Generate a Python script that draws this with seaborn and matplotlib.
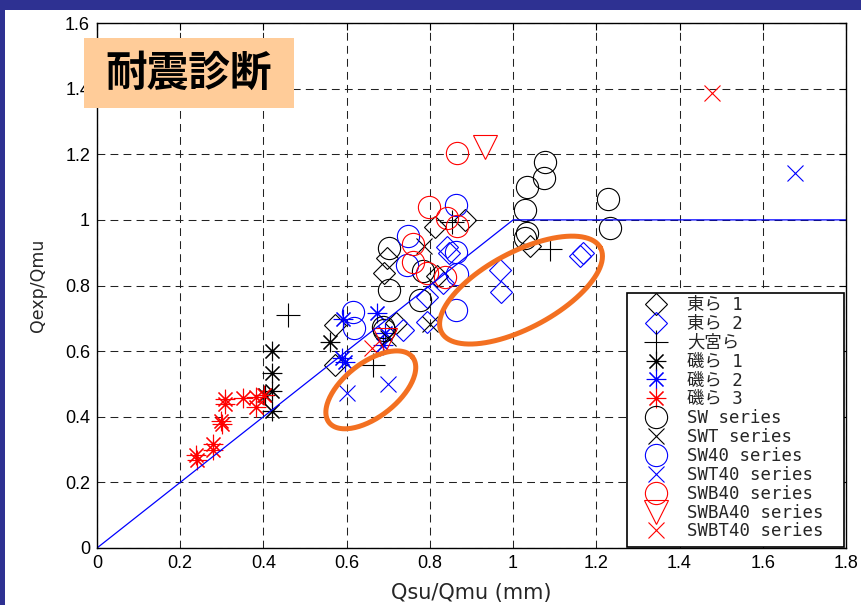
import numpy as np
import pandas as pd
import seaborn as sns
import matplotlib
matplotlib.use("Agg")
import matplotlib.pyplot as plt
from matplotlib.patches import Rectangle
from matplotlib.font_manager import FontProperties

# ---------------- data ----------------
higashi1_x = [0.572, 0.572, 0.690, 0.697, 0.719, 0.812, 0.884, 0.817, 1.040]
higashi1_y = [0.680, 0.558, 0.838, 0.884, 0.686, 0.978, 1.000, 0.829, 0.920]

higashi2_x = [0.841, 0.846, 0.832, 0.793, 0.969, 0.971, 1.161, 1.168, 0.793, 0.735]
higashi2_y = [0.917, 0.899, 0.808, 0.765, 0.847, 0.780, 0.890, 0.899, 0.689, 0.664]

omiya_x = [0.459, 0.664, 1.089, 0.852]
omiya_y = [0.710, 0.558, 0.911, 0.995]

iso1_x = [0.421, 0.421, 0.421, 0.404, 0.421, 0.560]
iso1_y = [0.600, 0.532, 0.480, 0.466, 0.418, 0.629]

iso2_x = [0.591, 0.673, 0.589, 0.596, 0.692, 0.687]
iso2_y = [0.698, 0.716, 0.579, 0.567, 0.655, 0.619]

iso3_x = [0.238, 0.240, 0.279, 0.279, 0.298, 0.300, 0.308, 0.308, 0.351, 0.382, 0.382, 0.401]
iso3_y = [0.283, 0.268, 0.317, 0.299, 0.387, 0.378, 0.453, 0.440, 0.457, 0.461, 0.430, 0.466]

sw_x = [1.077, 1.074, 1.033, 1.029, 1.033, 1.029, 1.229, 1.233, 0.702, 0.702, 0.688, 0.690, 0.776, 0.783]
sw_y = [1.177, 1.129, 1.101, 1.030, 0.959, 0.944, 1.064, 0.974, 0.915, 0.786, 0.674, 0.663, 0.756, 0.845]

swt_x = [0.786, 0.800, 0.699]
swt_y = [0.920, 0.683, 0.640]

sw40_x = [0.863, 0.748, 0.863, 0.745, 0.865, 0.863, 0.615, 0.617]
sw40_y = [1.045, 0.950, 0.902, 0.863, 0.834, 0.725, 0.719, 0.670]

swt40_x = [0.600, 0.700, 1.677]
swt40_y = [0.471, 0.500, 1.144]

swb40_x = [0.864, 0.798, 0.840, 0.865, 0.760, 0.760, 0.792, 0.836]
swb40_y = [1.203, 1.040, 1.005, 0.981, 0.927, 0.873, 0.837, 0.827]

swba40_x = [0.932, 0.692]
swba40_y = [1.223, 0.634]

swbt40_x = [1.478, 0.660]
swbt40_y = [1.387, 0.610]

# design line Qexp/Qmu = min(Qsu/Qmu, 1)
limit_x = [0.0, 1.0, 1.8]
limit_y = [0.0, 1.0, 1.0]

x_ticks = [0, 0.2, 0.4, 0.6, 0.8, 1.0, 1.2, 1.4, 1.6, 1.8]
x_ticklabels = ["0", "0.2", "0.4", "0.6", "0.8", "1", "1.2", "1.4", "1.6", "1.8"]
y_ticks = [0, 0.2, 0.4, 0.6, 0.8, 1.0, 1.2, 1.4, 1.6]
y_ticklabels = ["0", "0.2", "0.4", "0.6", "0.8", "1", "1.2", "1.4", "1.6"]

labels = ["東ら 1", "東ら 2", "大宮ら", "磯ら 1", "磯ら 2", "磯ら 3",
          "SW series", "SWT series", "SW40 series", "SWT40 series",
          "SWB40 series", "SWBA40 series", "SWBT40 series"]

# ---------------- style ----------------
sns.set_theme(style="white")
plt.rcParams["font.family"] = ["DejaVu Sans", "Noto Sans CJK JP"]

W, H = 861, 605
fig = plt.figure(figsize=(W / 100, H / 100), dpi=100)
fig.patch.set_facecolor("#2e3192")
fig.add_artist(Rectangle((5 / W, 0), (W - 5) / W, (H - 10) / H, transform=fig.transFigure,
                         facecolor="white", edgecolor="none", zorder=0))

ax = fig.add_axes([97 / W, 1 - 548 / H, 749 / W, 525 / H])
ax.set_facecolor("white")

ASTER = (8, 2, 0)
series = [
    (higashi1_x, higashi1_y, "D", 11.5, "black"),
    (higashi2_x, higashi2_y, "D", 11.5, "blue"),
    (omiya_x, omiya_y, "+", 17, "black"),
    (iso1_x, iso1_y, ASTER, 14, "black"),
    (iso2_x, iso2_y, ASTER, 14, "blue"),
    (iso3_x, iso3_y, ASTER, 14, "red"),
    (sw_x, sw_y, "o", 16, "black"),
    (swt_x, swt_y, "x", 11, "black"),
    (sw40_x, sw40_y, "o", 16, "blue"),
    (swt40_x, swt40_y, "x", 11, "blue"),
    (swb40_x, swb40_y, "o", 16, "red"),
    (swba40_x, swba40_y, "v", 17, "red"),
    (swbt40_x, swbt40_y, "x", 11, "red"),
]

handles = []
for (xs, ys, m, ms, c), lab in zip(series, labels):
    sns.lineplot(x=xs, y=ys, ax=ax, estimator=None, sort=False, linestyle="none",
                 marker=m, markersize=ms, markerfacecolor="none", markeredgecolor=c,
                 markeredgewidth=0.8, color=c, label=lab, legend=False)
    handles.append(ax.lines[-1])

sns.lineplot(x=limit_x, y=limit_y, ax=ax, estimator=None, sort=False,
             color="blue", linewidth=0.9, legend=False)

# orange highlight ellipses (pixel sizes)
sx, sy = 749 / 1.8, 525 / 1.6
t = np.linspace(0, 2 * np.pi, 200)
for cx, cy, a, b, ang in [(1.019, 0.786, 90, 38, 28), (0.658, 0.482, 53, 27, 38)]:
    th = np.deg2rad(ang)
    dx = a * np.cos(t) * np.cos(th) - b * np.sin(t) * np.sin(th)
    dy = a * np.cos(t) * np.sin(th) + b * np.sin(t) * np.cos(th)
    ax.plot(cx + dx / sx, cy + dy / sy, color="#f37021", linewidth=3.6, zorder=5)

ax.set_xlim(0, 1.8)
ax.set_ylim(0, 1.6)
ax.set_xticks(x_ticks)
ax.set_xticklabels(x_ticklabels)
ax.set_yticks(y_ticks)
ax.set_yticklabels(y_ticklabels)
ax.tick_params(direction="in", top=True, right=True, length=5, width=0.8,
               colors="black", labelsize=13, pad=5)
for lab in ax.get_xticklabels() + ax.get_yticklabels():
    lab.set_fontfamily(["Liberation Sans"])
ax.grid(True, color="#222222", linestyle=(0, (7.5, 5)), linewidth=0.75)
for sp in ax.spines.values():
    sp.set_visible(True)
    sp.set_color("black")
    sp.set_linewidth(1.0)

ax.set_xlabel("Qsu/Qmu (mm)", fontsize=15, labelpad=8)
ax.set_ylabel("Qexp/Qmu", fontsize=12.5, labelpad=13)

# legend frame drawn separately (box 627..844 x 293..547 px)
ax.add_patch(Rectangle((627 / W, 1 - 547 / H), 217 / W, 254 / H, transform=fig.transFigure,
                       facecolor="white", edgecolor="black", linewidth=1.2,
                       clip_on=False, zorder=6))
leg_font = FontProperties(family=["DejaVu Sans Mono", "Noto Sans CJK JP"], size=12.5)
leg = ax.legend(handles=handles, labels=labels, loc="upper left",
                bbox_to_anchor=(627 / W, 1 - 290 / H), bbox_transform=fig.transFigure,
                frameon=False, prop=leg_font, handlelength=2.6, handletextpad=0.5,
                labelspacing=0.05, borderpad=0.35, borderaxespad=0)
leg.set_zorder(7)

# title badge
fig.add_artist(Rectangle((84 / W, 1 - 108 / H), 210 / W, 70 / H, transform=fig.transFigure,
                         facecolor="#ffcc99", edgecolor="none", zorder=10))
fig.text(189 / W, 1 - 74 / H, "耐震診断", ha="center", va="center", fontsize=30,
         fontweight="bold", family=["Noto Sans CJK JP"], color="black", zorder=11)

fig.savefig("out.png", dpi=100, facecolor=fig.get_facecolor())
